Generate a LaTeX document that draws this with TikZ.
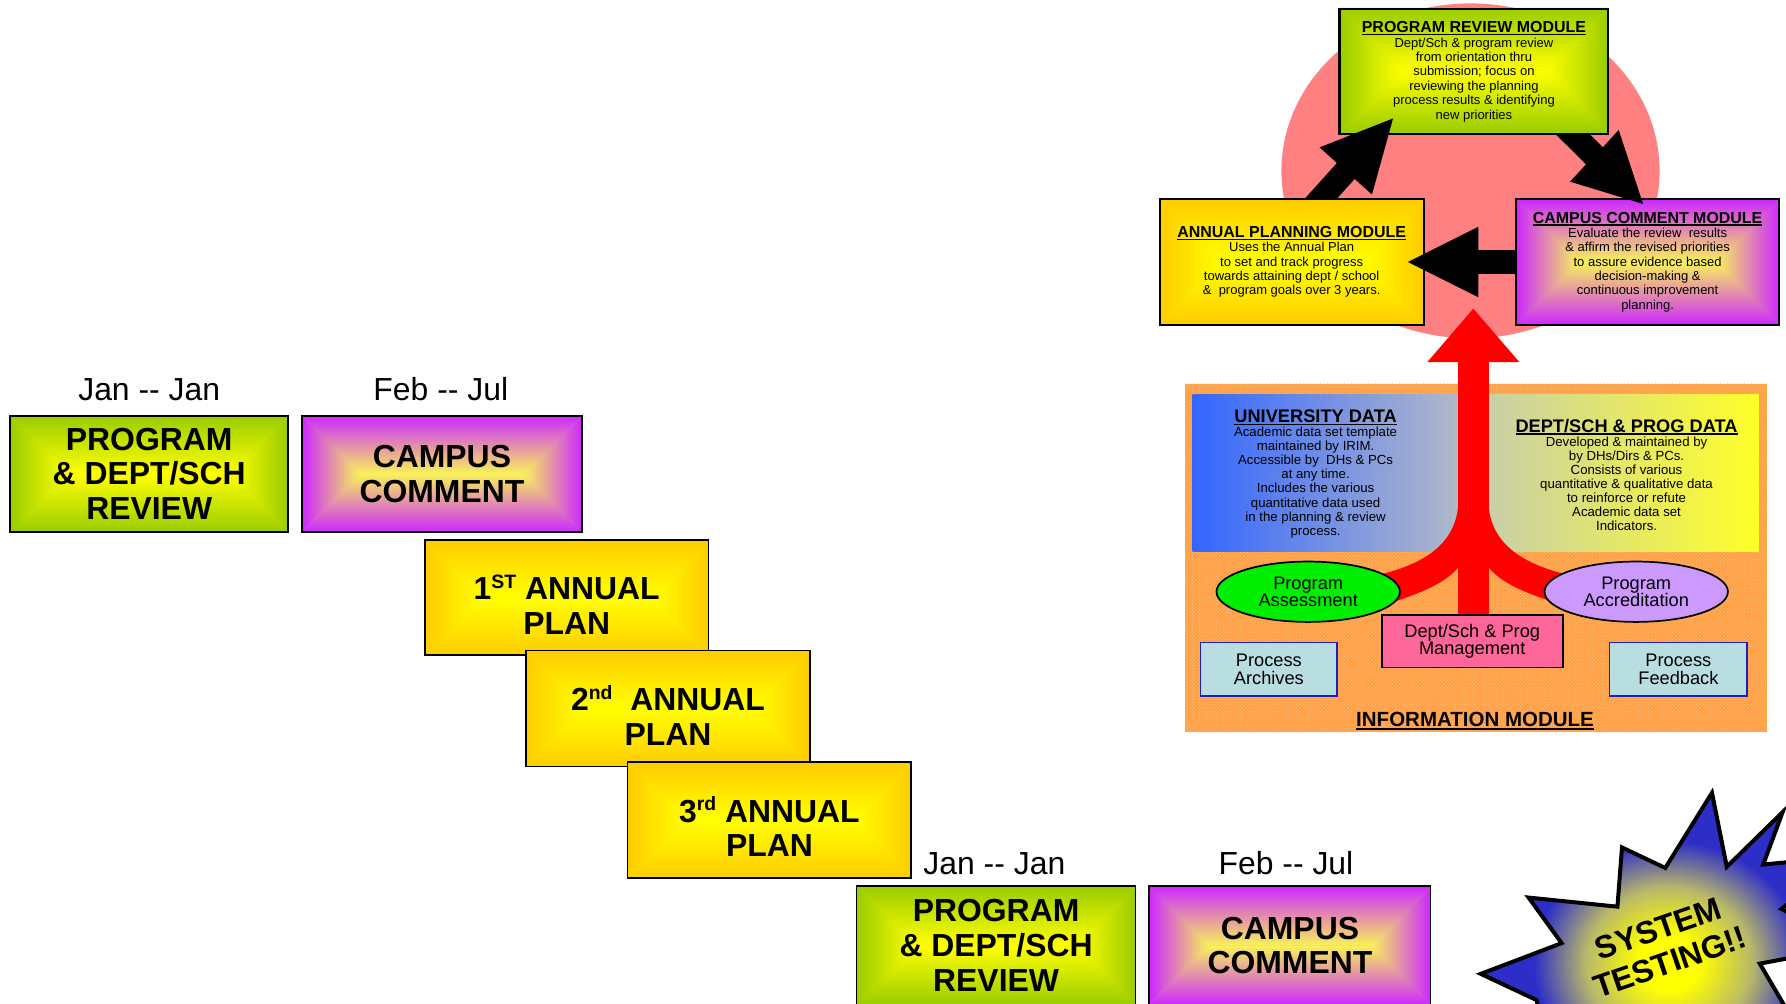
\documentclass[tikz,border=0pt]{standalone}
\usepackage{fontspec}
\setmainfont{Liberation Sans}
\usetikzlibrary{patterns,shapes.geometric}

\definecolor{grnO}{RGB}{153,204,0}
\definecolor{grnM}{RGB}{204,230,0}
\definecolor{ylw}{RGB}{255,255,0}
\definecolor{purO}{RGB}{204,40,255}
\definecolor{purM}{RGB}{226,150,222}
\definecolor{purI}{RGB}{248,242,90}
\definecolor{goldO}{RGB}{255,204,0}
\definecolor{goldM}{RGB}{255,230,0}
\definecolor{pinkC}{RGB}{255,128,128}
\definecolor{orgBG}{RGB}{255,160,70}
\definecolor{orgDot}{RGB}{255,196,130}
\definecolor{uniL}{RGB}{51,102,255}
\definecolor{uniR}{RGB}{180,186,200}
\definecolor{depL}{RGB}{200,206,170}
\definecolor{depR}{RGB}{255,255,40}
\definecolor{asmG}{RGB}{0,238,0}
\definecolor{accP}{RGB}{204,153,255}
\definecolor{mgmP}{RGB}{255,102,153}
\definecolor{proC}{RGB}{185,222,226}
\definecolor{proB}{RGB}{30,30,190}
\definecolor{starB}{RGB}{45,45,200}
\definecolor{starM}{RGB}{185,185,105}
\definecolor{redA}{RGB}{255,0,0}

\pgfdeclareradialshading{starglow}{\pgfpoint{0bp}{0bp}}{color(0bp)=(ylw); color(4bp)=(ylw);
  color(11bp)=(starM); color(18bp)=(starB); color(50bp)=(starB)}

\newsavebox{\ulbx}
\newcommand{\myul}[1]{\sbox{\ulbx}{#1}\rlap{\rule[-0.16em]{\wd\ulbx}{0.085em}}\usebox{\ulbx}}
\newcommand{\mysup}[1]{\raisebox{10pt}{\fontsize{17}{17}\selectfont #1}}
\newcommand{\modtitle}[1]{{\fontsize{14}{15}\selectfont\bfseries\myul{#1}}}
\newcommand{\datatitle}[1]{{\fontsize{16}{17}\selectfont\bfseries\myul{#1}}}
% rectangular "from centre" gradient: x0 y0 x1 y1 outer middle inner
\newcommand{\glowfill}[7]{%
  \pgfmathsetmacro{\gfM}{(#4-#2)/2}%
  \pgfmathsetmacro{\gfY}{(#2+#4)/2}%
  \pgfmathsetmacro{\gfA}{#1+\gfM}%
  \pgfmathsetmacro{\gfB}{#3-\gfM}%
  \fill[#6] (#1,#2) rectangle (#3,#4);
  \shade[top color=#5,middle color=#6,bottom color=#7] (#1,#2) -- (#3,#2) -- (\gfB,\gfY) -- (\gfA,\gfY) -- cycle;
  \shade[top color=#7,middle color=#6,bottom color=#5] (#1,#4) -- (#3,#4) -- (\gfB,\gfY) -- (\gfA,\gfY) -- cycle;
  \shade[left color=#5,middle color=#6,right color=#7] (#1,#2) -- (\gfA,\gfY) -- (#1,#4) -- cycle;
  \shade[left color=#7,middle color=#6,right color=#5] (#3,#2) -- (\gfB,\gfY) -- (#3,#4) -- cycle;
}

\begin{document}
\begin{tikzpicture}[x=1pt,y=-1pt,
  bigbox/.style={draw=black, line width=1.5pt, inner sep=0pt, align=center,
    font=\fontsize{28}{30.5}\selectfont\bfseries},
  datelbl/.style={inner sep=0pt, anchor=base, font=\fontsize{28}{30}\selectfont},
  modbox/.style={draw=black, line width=1.8pt, inner sep=0pt, align=center,
    font=\fontsize{11.4}{12.6}\selectfont},
  datatxt/.style={inner sep=0pt, align=center, font=\fontsize{11.6}{12.4}\selectfont},
  ellip/.style={draw=black, line width=1.5pt, ellipse, minimum width=161pt,
    minimum height=53pt, inner sep=0pt, align=center, font=\fontsize{16}{15.5}\selectfont},
  smallbox/.style={draw=black, line width=1.5pt, inner sep=0pt, align=center,
    font=\fontsize{16}{15.5}\selectfont},
  blockarrow/.style={fill=black}
]
\useasboundingbox (0,0) rectangle (1568,881);
\clip (0,0) rectangle (1568,881);

% ---------------- left time line ----------------
\node[datelbl] (d1) at (131,352) {Jan -{}- Jan};
\node[datelbl] (d2) at (387,352) {Feb -{}- Jul};

\glowfill{9}{365}{253}{467}{grnO}{grnM}{ylw}
\node[bigbox, minimum width=244pt, minimum height=102pt] (rev1) at (131,416)
  {PROGRAM\\\& DEPT/SCH\\REVIEW};
\glowfill{265}{365}{511}{467}{purO}{purM}{purI}
\node[bigbox, minimum width=246pt, minimum height=102pt] (cc1) at (388,416)
  {CAMPUS\\COMMENT};

\glowfill{373}{474}{622}{575}{goldO}{goldM}{ylw}
\node[bigbox, minimum width=249pt, minimum height=101pt] (ap1) at (497.5,524.5)
  {\rule{0pt}{34pt}1\mysup{ST} ANNUAL\\PLAN};
\glowfill{462}{571}{711}{673}{goldO}{goldM}{ylw}
\node[bigbox, minimum width=249pt, minimum height=102pt] (ap2) at (586.5,622)
  {\rule{0pt}{34pt}2\mysup{nd}\ \ ANNUAL\\PLAN};
\glowfill{551}{669}{800}{771}{goldO}{goldM}{ylw}
\node[bigbox, minimum width=249pt, minimum height=102pt] (ap3) at (675.5,720)
  {\rule{0pt}{34pt}3\mysup{rd} ANNUAL\\PLAN};

\node[datelbl] (d3) at (873,768) {Jan -{}- Jan};
\node[datelbl] (d4) at (1129,768) {Feb -{}- Jul};
\glowfill{752}{778}{997}{882}{grnO}{grnM}{ylw}
\node[bigbox, minimum width=245pt, minimum height=104pt] (rev2) at (874.5,830)
  {PROGRAM\\\& DEPT/SCH\\REVIEW};
\glowfill{1009}{778}{1256}{882}{purO}{purM}{purI}
\node[bigbox, minimum width=247pt, minimum height=104pt] (cc2) at (1132.5,830)
  {CAMPUS\\COMMENT};

% ---------------- module cycle ----------------
\fill[pinkC] (1291,150) ellipse [x radius=166pt, y radius=147pt];

\glowfill{1176}{7}{1412}{117}{grnO}{grnM}{ylw}
\node[modbox, minimum width=236pt, minimum height=110pt] (prm) at (1294,63)
  {\modtitle{PROGRAM REVIEW MODULE}\\Dept/Sch \& program review\\from orientation thru\\
   submission; focus on\\reviewing the planning\\process results \& identifying\\new priorities};
\glowfill{1018}{175}{1250}{285}{goldO}{goldM}{ylw}
\node[modbox, minimum width=232pt, minimum height=110pt] (apm) at (1134,230)
  {\modtitle{ANNUAL PLANNING MODULE}\\Uses the Annual Plan\\to set and track progress\\
   towards attaining dept / school\\\&\ \ program goals over 3 years.};
\glowfill{1331}{175}{1562}{285}{purO}{purM}{purI}
\node[modbox, minimum width=231pt, minimum height=110pt] (ccm) at (1446.5,230)
  {\modtitle{CAMPUS COMMENT MODULE}\\Evaluate the review\ \ results\\\& affirm the revised priorities\\
   to assure evidence based\\decision-making \&\\continuous improvement\\planning.};

% block arrows between the modules (drawn over the boxes)
\coordinate (a1s) at (1159,175);
\coordinate (a1e) at (1223,104);
\coordinate (a2s) at (1380,117);
\coordinate (a2e) at (1442.5,179);
\coordinate (a3s) at (1331,230);
\coordinate (a3e) at (1236,230);
\fill[blockarrow] (1145,175) -- (1173.7,143.1) -- (1158.5,129.4) -- (a1e)
  -- (1204.5,170.8) -- (1189.3,157.1) -- (1173.2,175) -- cycle;
\fill[blockarrow] (1364.9,117) -- (1394.8,117) -- (1407.2,129.3) -- (1421.1,114.1)
  -- (a2e) -- (1378.4,159.5) -- (1392.4,144.3) -- cycle;
\fill[blockarrow] (1331,219.5) -- (1298,219.5) -- (1298,199) -- (a3e)
  -- (1298,261) -- (1298,240.5) -- (1331,240.5) -- cycle;

% ---------------- information module ----------------
\fill[orgBG] (1040,337) rectangle (1551,643);
\fill[pattern=crosshatch dots, pattern color=orgDot] (1040,337) rectangle (1551,643);
\shade[left color=uniL, right color=uniR] (1047,346) rectangle (1284,484);
\shade[left color=depL, right color=depR] (1302,346) rectangle (1544,484);

\node[datatxt] (udt) at (1155,416)
  {\datatitle{UNIVERSITY DATA}\\Academic data set template\\maintained by IRIM.\\
   Accessible by\ \ DHs \& PCs\\at any time.\\Includes the various\\quantitative data used\\
   in the planning \& review\\process.};
\node[datatxt] (ddt) at (1428,417)
  {\datatitle{DEPT/SCH \& PROG DATA}\\Developed \& maintained by\\by DHs/Dirs \& PCs.\\
   Consists of various\\quantitative \& qualitative data\\to reinforce or refute\\
   Academic data set\\Indicators.};

% red tree arrow
\fill[redA] (1280,310) rectangle (1307,546);
\fill[redA] (1253,318) -- (1293.5,271) -- (1334,318) -- cycle;
\fill[redA] (1280.5,440) .. controls (1279,478) and (1250,497) .. (1200,507)
  -- (1212,532) .. controls (1245,522) and (1270,512) .. (1281,497) -- cycle;
\fill[redA] (1306.5,440) .. controls (1308,478) and (1337,497) .. (1387,507)
  -- (1375,532) .. controls (1342,522) and (1317,512) .. (1306,497) -- cycle;

\node[ellip, fill=asmG] (pa) at (1148.5,519.5) {Program\\Assessment};
\node[ellip, fill=accP] (pac) at (1436.5,519.5) {Program\\Accreditation};
\node[smallbox, fill=mgmP, minimum width=159pt, minimum height=46pt] (mgm) at (1292.5,563)
  {Dept/Sch \& Prog\\Management};
\node[smallbox, fill=proC, draw=proB, minimum width=120pt, minimum height=47pt] (arc) at (1114,587.5)
  {Process\\Archives};
\node[smallbox, fill=proC, draw=proB, minimum width=121pt, minimum height=47pt] (fbk) at (1473.5,587.5)
  {Process\\Feedback};
\node[inner sep=0pt, anchor=base, font=\fontsize{18}{18}\selectfont\bfseries] (inf) at (1295,638)
  {\myul{INFORMATION MODULE}};

% ---------------- starburst ----------------
\shadedraw[shading=starglow, draw=black, line width=3.5pt, line join=miter]
  (1300,855) -- (1371,828) -- (1342,788) -- (1420,796) -- (1424,744) -- (1462,762)
  -- (1503,696) -- (1516,761) -- (1565,713) -- (1548,759) -- (1620,752) -- (1564,798)
  -- (1630,830) -- (1545,846) -- (1600,940) -- (1470,995) -- (1360,930) -- (1349,878) -- cycle;
\node[rotate=19, inner sep=0pt, align=center, font=\fontsize{28}{31}\selectfont\bfseries] (sys) at (1461,830)
  {SYSTEM\\TESTING!!};
\end{tikzpicture}
\end{document}
